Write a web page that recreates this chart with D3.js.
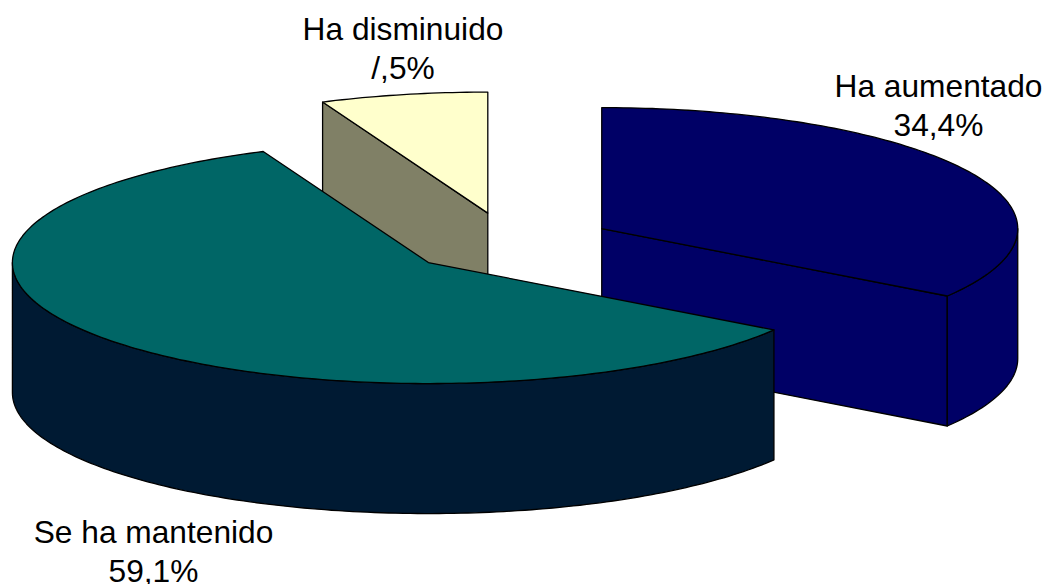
<!DOCTYPE html>
<html>
<head>
<meta charset="utf-8">
<style>html,body{margin:0;padding:0;background:#fff;overflow:hidden}svg{display:block}</style>
<script src="https://cdn.jsdelivr.net/npm/d3@7/dist/d3.min.js"></script>
</head>
<body>
<script>
const categories = ["Ha aumentado", "Se ha mantenido", "Ha disminuido"];
const values = [34.4, 59.1, 6.5];
const valueLabels = ["34,4%", "59,1%", "/,5%"];
const topColors = ["#000066", "#006666", "#FFFFCC"];
const sideColors = ["#000066", "#001A33", "#808066"];

const W = 1045, H = 584;
const center = {x: 509.1, y: 243};
const rx = 416, ry = 121, depth = 130, explode = 105;
const labelAnchors = [{x: 938.5, y: 97}, {x: 153.5, y: 543}, {x: 403, y: 40}];
const lineGap = 38.5;

const svg = d3.select("body").append("svg").attr("width", W).attr("height", H);

const slices = d3.pie().sort(null).value(d => d)(values);
const sx = d3.scaleLinear().domain([-1, 1]).range([-rx, rx]);
const sy = d3.scaleLinear().domain([-1, 1]).range([-ry, ry]);
const line = d3.line().x(d => d[0]).y(d => d[1]);

function origin(s) {
  const m = (s.startAngle + s.endAngle) / 2;
  return [center.x + Math.sin(m) * explode,
          center.y - Math.cos(m) * explode * ry / rx];
}
function rim(o, a) { return [o[0] + sx(Math.sin(a)), o[1] - sy(Math.cos(a))]; }
function arcPts(o, a0, a1) {
  const n = Math.max(2, Math.ceil(Math.abs(a1 - a0) / (Math.PI / 180)));
  return d3.range(n + 1).map(i => rim(o, a0 + (a1 - a0) * i / n));
}
const down = p => [p[0], p[1] + depth];

function face(pts, fill) {
  svg.append("path").attr("d", line(pts) + "Z")
    .attr("fill", fill).attr("stroke", "#000").attr("stroke-width", 1.3)
    .attr("stroke-linejoin", "round");
}

function drawSlice(i) {
  const s = slices[i], o = origin(s), a0 = s.startAngle, a1 = s.endAngle;
  const side = sideColors[i];
  const half = Math.PI, q = Math.PI / 2;
  // walls facing the viewer
  if (a1 < half && a1 > q) {
    const e = rim(o, a1);
    face([o, e, down(e), down(o)], side);
  }
  if (a0 > half + q) {
    const e = rim(o, a0);
    face([e, o, down(o), down(e)], side);
  }
  // outer rim for the front half of the ellipse
  const r0 = Math.max(a0, q), r1 = Math.min(a1, half + q);
  if (r1 > r0) {
    const arc = arcPts(o, r0, r1);
    face(arc.concat(arc.map(down).reverse()), side);
  }
  face([o].concat(arcPts(o, a0, a1)), topColors[i]);
}

// back to front: navy, cream, teal
[0, 2, 1].forEach(drawSlice);

categories.forEach((c, i) => {
  const g = svg.append("text")
    .attr("text-anchor", "middle")
    .attr("font-family", "'Liberation Sans', Arial, sans-serif")
    .attr("font-size", 31.7)
    .attr("fill", "#000");
  g.append("tspan").attr("x", labelAnchors[i].x).attr("y", labelAnchors[i].y).text(c);
  g.append("tspan").attr("x", labelAnchors[i].x).attr("y", labelAnchors[i].y + lineGap).text(valueLabels[i]);
});
</script>
</body>
</html>
